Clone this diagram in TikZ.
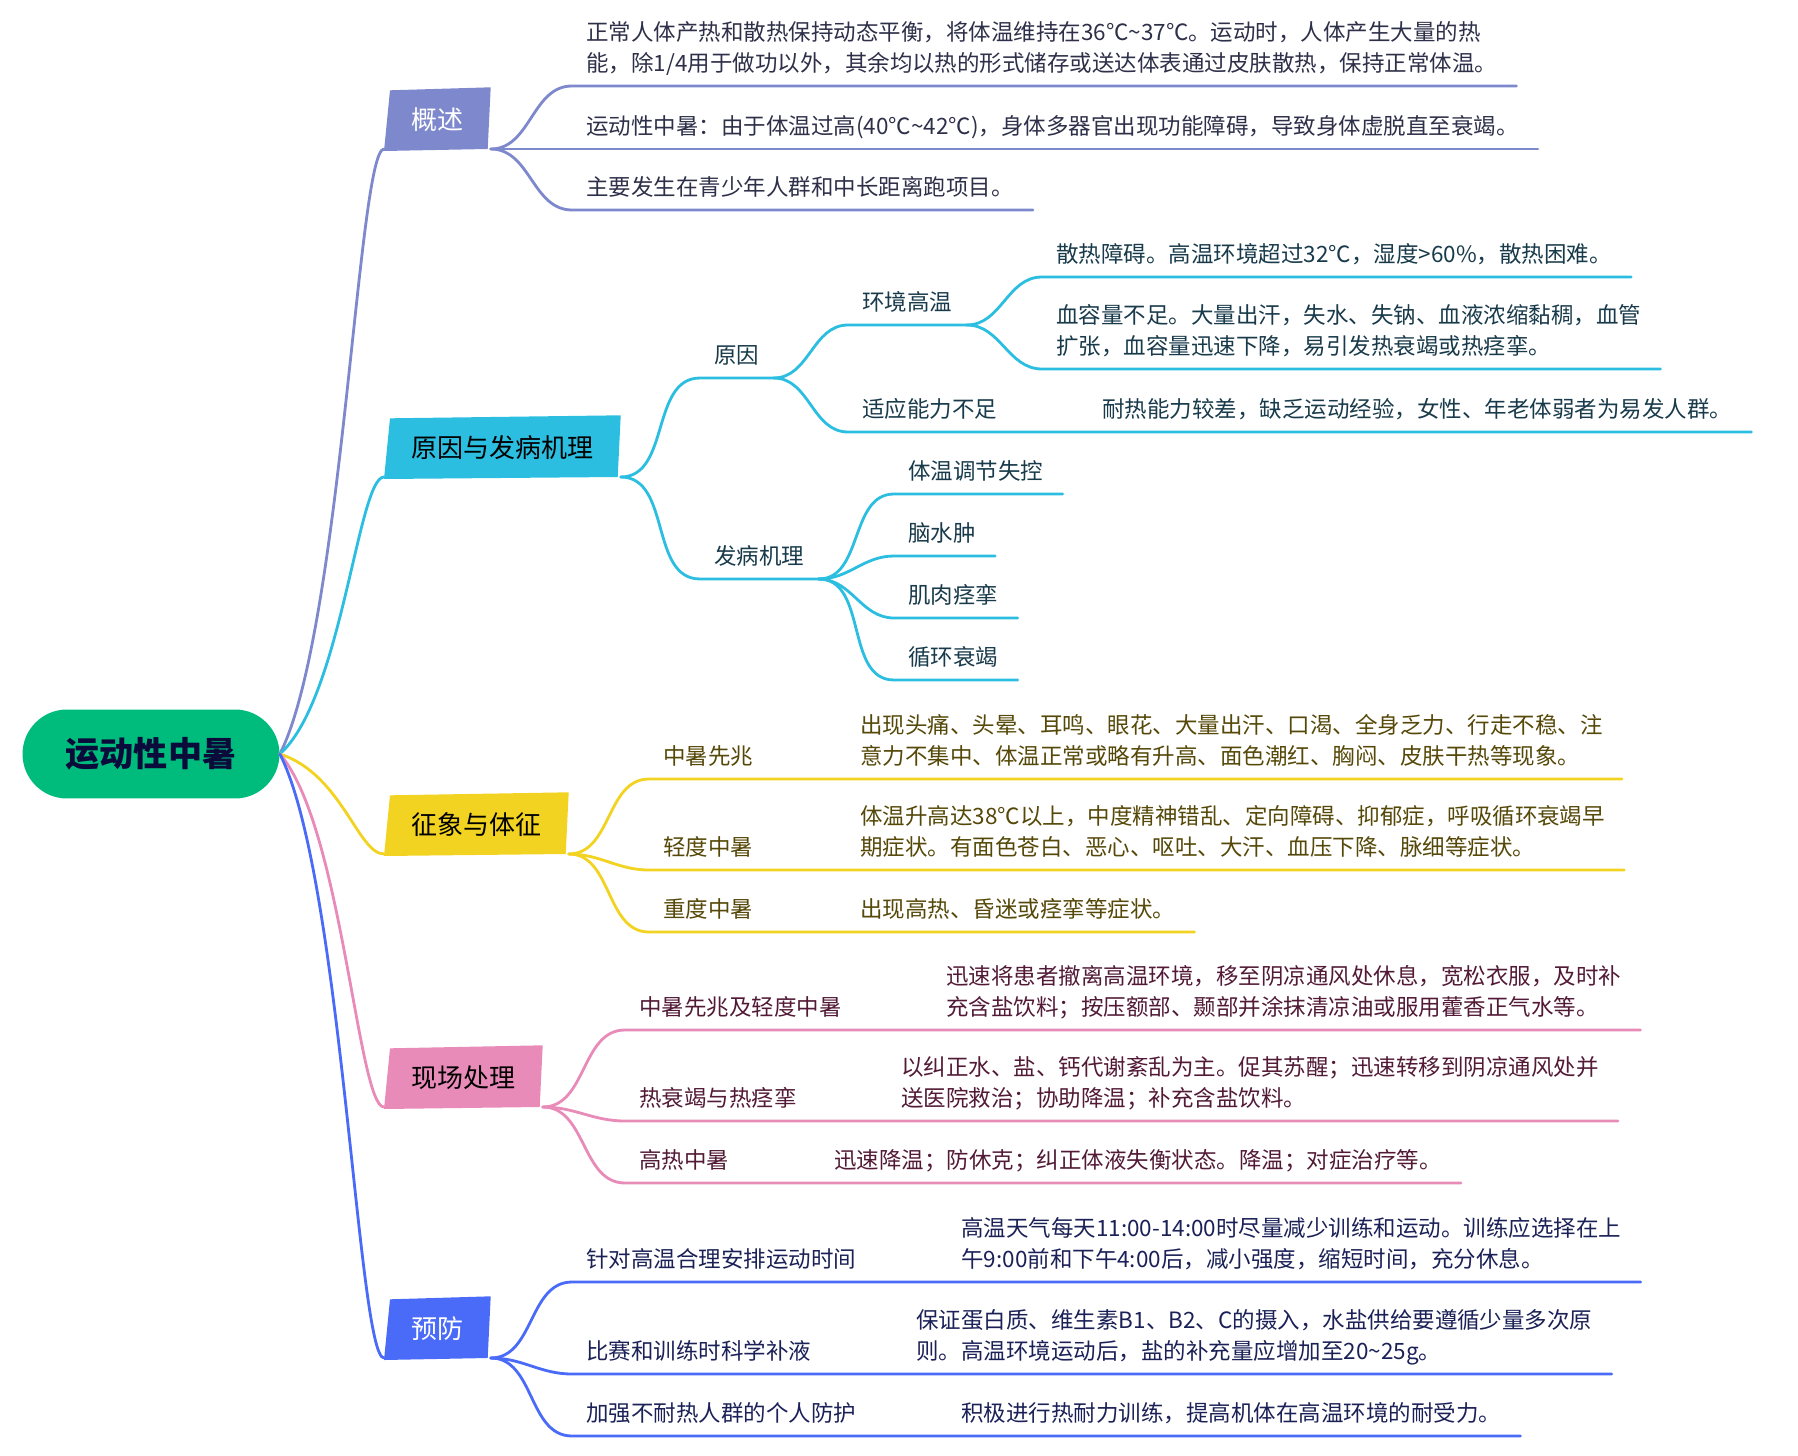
\documentclass[tikz,border=0pt]{standalone}
\usepackage{fontspec}
\setmainfont{Noto Sans CJK SC}
\usepackage{tikz}
\usetikzlibrary{positioning,backgrounds}
\definecolor{rootgreen}{HTML}{00BC7C}
\definecolor{rootink}{HTML}{0B0B3B}
\definecolor{lav}{HTML}{7E88CC}
\definecolor{cyanb}{HTML}{2BBEE0}
\definecolor{yellowb}{HTML}{F2D322}
\definecolor{pinkb}{HTML}{E98BB9}
\definecolor{blueb}{HTML}{4A6BF8}
\definecolor{lavink}{HTML}{2E3049}
\definecolor{cyanink}{HTML}{183A4A}
\definecolor{yellowink}{HTML}{554808}
\definecolor{pinkink}{HTML}{521A36}
\definecolor{blueink}{HTML}{1B2157}
\newcommand{\tagfill}[2]{\fill[#2] ([xshift=0.12cm]#1.north west) -- ([yshift=0.06cm]#1.north east) -- ([xshift=-0.06cm]#1.south east) -- ([yshift=-0.04cm]#1.south west) -- cycle;}
\newcommand{\tld}{\textasciitilde}

\begin{document}
\begin{tikzpicture}[x=0.02cm, y=-0.02cm,
    root/.style={fill=rootgreen, rounded corners=0.89cm, minimum width=5.14cm, minimum height=1.78cm, text=rootink, font=\fontsize{19.4pt}{22pt}\selectfont\bfseries},
    tagbox/.style={anchor=south west, inner xsep=0.54cm, inner ysep=0pt, minimum height=1.16cm, font=\fontsize{14.8pt}{18pt}\selectfont},
    leaf/.style={anchor=south west, inner xsep=0.28cm, inner ysep=3pt, align=left, font=\fontsize{12.8pt}{17.6pt}\selectfont},
    link/.style={line width=1.6pt, line cap=round}]
        \useasboundingbox (0,0) rectangle (1798,1456);
        % Root and main topics
        \node[root] (root) at (151,754) {运动性中暑};
        \node[tagbox, text=white] (gs) at (384,149) {概述};
        \node[tagbox, text=black] (yf) at (384,477) {原因与发病机理};
        \node[tagbox, text=black] (zx) at (384,854) {征象与体征};
        \node[tagbox, text=black] (xc) at (384,1107) {现场处理};
        \node[tagbox, text=white] (yfa) at (384,1358) {预防};
        \begin{scope}[on background layer]
            \tagfill{gs}{lav}
            \tagfill{yf}{cyanb}
            \tagfill{zx}{yellowb}
            \tagfill{xc}{pinkb}
            \tagfill{yfa}{blueb}
        \end{scope}
        % Root to main topics
        \draw[link, lav] (root.east) .. controls +(62,-121) and +(-26,0) .. (gs.south west);
        \draw[link, cyanb] (root.east) .. controls +(62,-55) and +(-26,0) .. (yf.south west);
        \draw[link, yellowb] (root.east) .. controls +(62,20) and +(-26,0) .. (zx.south west);
        \draw[link, pinkb] (root.east) .. controls +(62,71) and +(-26,0) .. (xc.south west);
        \draw[link, blueb] (root.east) .. controls +(62,121) and +(-26,0) .. (yfa.south west);
        % Overview
        \node[leaf, text=lavink] (gsA) at (572,86) {正常人体产热和散热保持动态平衡，将体温维持在36℃\tld37℃。运动时，人体产生大量的热\\能，除1/4用于做功以外，其余均以热的形式储存或送达体表通过皮肤散热，保持正常体温。\strut};
        \node[leaf, text=lavink] (gsB) at (572,149) {运动性中暑：由于体温过高(40℃\tld42℃)，身体多器官出现功能障碍，导致身体虚脱直至衰竭。\strut};
        \node[leaf, text=lavink] (gsC) at (572,210) {主要发生在青少年人群和中长距离跑项目。\strut};
        \foreach \n in {gsA,gsB,gsC} {
            \draw[link, lav] (gs.south east) to[out=0,in=180] (\n.south west) -- ([xshift=0.1cm]\n.south east);
        }
        % Causes and mechanism
        \node[leaf, text=cyanink] (yy) at (700,378) {原因\strut};
        \node[leaf, text=cyanink] (hj) at (848,325) {环境高温\strut};
        \node[leaf, text=cyanink] (sy) at (848,432) {适应能力不足\strut};
        \node[leaf, text=cyanink] (sr) at (1042,277) {散热障碍。高温环境超过32℃，湿度>60\%，散热困难。\strut};
        \node[leaf, text=cyanink] (xr) at (1042,369) {血容量不足。大量出汗，失水、失钠、血液浓缩黏稠，血管\\扩张，血容量迅速下降，易引发热衰竭或热痉挛。\strut};
        \node[leaf, text=cyanink] (nr) at (1088,432) {耐热能力较差，缺乏运动经验，女性、年老体弱者为易发人群。\strut};
        \node[leaf, text=cyanink] (fb) at (700,579) {发病机理\strut};
        \node[leaf, text=cyanink] (tw) at (894,494) {体温调节失控\strut};
        \node[leaf, text=cyanink] (ns) at (894,556) {脑水肿\strut};
        \node[leaf, text=cyanink] (jr) at (894,618) {肌肉痉挛\strut};
        \node[leaf, text=cyanink] (xh) at (894,680) {循环衰竭\strut};
        \draw[link, cyanb] (yf.south east) to[out=0,in=180] (yy.south west) -- (yy.south east);
        \draw[link, cyanb] (yf.south east) to[out=0,in=180] (fb.south west) -- (fb.south east);
        \draw[link, cyanb] (yy.south east) to[out=0,in=180] (hj.south west) -- (hj.south east);
        \draw[link, cyanb] (yy.south east) to[out=0,in=180] (sy.south west) -- ([xshift=0.1cm]nr.south east);
        \foreach \n in {sr,xr} {
            \draw[link, cyanb] (hj.south east) to[out=0,in=180] (\n.south west) -- ([xshift=0.1cm]\n.south east);
        }
        \foreach \n in {tw,ns,jr,xh} {
            \draw[link, cyanb] (fb.south east) to[out=0,in=180] (\n.south west) -- ([xshift=0.1cm]\n.south east);
        }
        % Signs and symptoms
        \node[leaf, text=yellowink] (xz) at (649,779) {中暑先兆\strut};
        \node[leaf, text=yellowink] (xzA) at (846,779) {出现头痛、头晕、耳鸣、眼花、大量出汗、口渴、全身乏力、行走不稳、注\\意力不集中、体温正常或略有升高、面色潮红、胸闷、皮肤干热等现象。\strut};
        \node[leaf, text=yellowink] (qd) at (649,870) {轻度中暑\strut};
        \node[leaf, text=yellowink] (qdA) at (846,870) {体温升高达38℃以上，中度精神错乱、定向障碍、抑郁症，呼吸循环衰竭早\\期症状。有面色苍白、恶心、呕吐、大汗、血压下降、脉细等症状。\strut};
        \node[leaf, text=yellowink] (zd) at (649,932) {重度中暑\strut};
        \node[leaf, text=yellowink] (zdA) at (846,932) {出现高热、昏迷或痉挛等症状。\strut};
        \foreach \n in {xz,qd,zd} {
            \draw[link, yellowb] (zx.south east) to[out=0,in=180] (\n.south west) -- ([xshift=0.1cm]\n A.south east);
        }
        % First aid
        \node[leaf, text=pinkink] (xq) at (625,1030) {中暑先兆及轻度中暑\strut};
        \node[leaf, text=pinkink] (xqA) at (932,1030) {迅速将患者撤离高温环境，移至阴凉通风处休息，宽松衣服，及时补\\充含盐饮料；按压额部、颞部并涂抹清凉油或服用藿香正气水等。\strut};
        \node[leaf, text=pinkink] (rs) at (625,1121) {热衰竭与热痉挛\strut};
        \node[leaf, text=pinkink] (rsA) at (887,1121) {以纠正水、盐、钙代谢紊乱为主。促其苏醒；迅速转移到阴凉通风处并\\送医院救治；协助降温；补充含盐饮料。\strut};
        \node[leaf, text=pinkink] (gr) at (625,1183) {高热中暑\strut};
        \node[leaf, text=pinkink] (grA) at (820,1183) {迅速降温；防休克；纠正体液失衡状态。降温；对症治疗等。\strut};
        \foreach \n in {xq,rs,gr} {
            \draw[link, pinkb] (xc.south east) to[out=0,in=180] (\n.south west) -- ([xshift=0.1cm]\n A.south east);
        }
        % Prevention
        \node[leaf, text=blueink] (ap) at (572,1282) {针对高温合理安排运动时间\strut};
        \node[leaf, text=blueink] (apA) at (947,1282) {高温天气每天11:00-14:00时尽量减少训练和运动。训练应选择在上\\午9:00前和下午4:00后，减小强度，缩短时间，充分休息。\strut};
        \node[leaf, text=blueink] (bs) at (572,1374) {比赛和训练时科学补液\strut};
        \node[leaf, text=blueink] (bsA) at (902,1374) {保证蛋白质、维生素B1、B2、C的摄入，水盐供给要遵循少量多次原\\则。高温环境运动后，盐的补充量应增加至20\tld25g。\strut};
        \node[leaf, text=blueink] (jq) at (572,1436) {加强不耐热人群的个人防护\strut};
        \node[leaf, text=blueink] (jqA) at (947,1436) {积极进行热耐力训练，提高机体在高温环境的耐受力。\strut};
        \foreach \n in {ap,bs,jq} {
            \draw[link, blueb] (yfa.south east) to[out=0,in=180] (\n.south west) -- ([xshift=0.1cm]\n A.south east);
        }
\end{tikzpicture}
\end{document}
